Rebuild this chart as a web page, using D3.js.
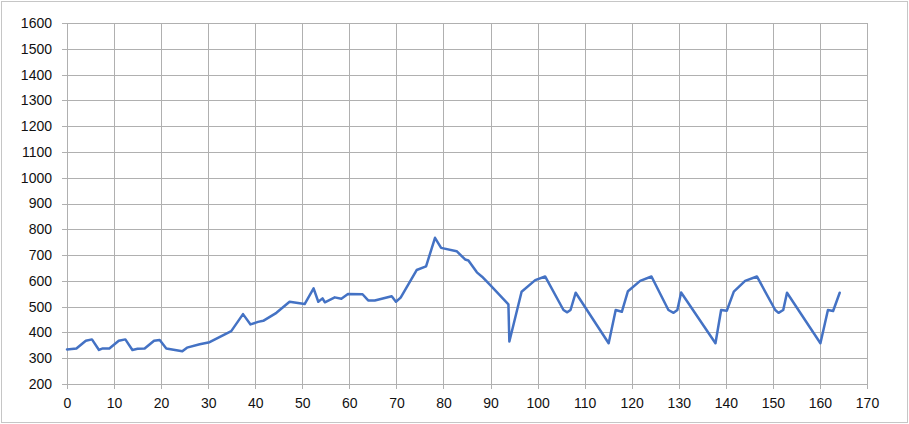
<!DOCTYPE html>
<html>
<head>
<meta charset="utf-8">
<script src="https://cdn.jsdelivr.net/npm/d3@7"></script>
<style>
  html, body { margin: 0; padding: 0; background: #fff; }
  #chart { width: 909px; height: 424px; }
  svg { display: block; font-family: "Open Sans", "Liberation Sans", sans-serif; }
  .grid line { stroke: #b0b0b0; stroke-width: 1; shape-rendering: crispEdges; }
  .grid .domain { display: none; }
  .axis line { stroke: #b0b0b0; shape-rendering: crispEdges; }
  .axis .domain { display: none; }
  .axis text { fill: #111; font-size: 14px; }
  .series { fill: none; stroke: #4472c4; stroke-width: 2.5; stroke-linejoin: round; stroke-linecap: round; }
</style>
</head>
<body>
<div id="chart"></div>
<script>
// Chart data
var X_VALUES = [0, 2, 4, 5.3, 6.8, 7.6, 9, 11, 12.4, 13.9, 15, 16.5, 18.5, 19.7, 21.1, 24.5, 25.5, 28.2,
  30.3, 34.9, 37.4, 39, 40.6, 41.7, 44.5, 47.3, 50.5, 52.4, 53.4, 54.3, 54.8, 56.9, 58.3, 59.7,
  62.8, 64, 65.4, 69, 69.9, 70.9, 74.3, 76.3, 78.2, 79.5, 82.8, 84.6, 85.3, 87.1, 88.2, 89.9,
  93.8, 94, 96.6, 99.5, 101.6, 105.5, 106.3, 107, 108.1, 115.1, 116.6, 117.9, 119.2,
  121.8, 124.2, 127.8, 128.9, 129.7, 130.5, 137.8, 139, 140.2, 141.7, 144.1, 146.6,
  150.5, 151.2, 152.2, 153, 160.1, 161.7, 162.8, 164.2];
var Y_VALUES = [334, 338, 368, 373, 332, 338, 338, 368, 373, 332, 337, 338, 368, 371, 338, 327, 341, 354,
  362, 405, 471, 431, 441, 445, 476, 519, 510, 571, 519, 532, 517, 536, 531, 549,
  548, 524, 524, 540, 519, 535, 642, 656, 767, 728, 715, 683, 679, 633, 616, 584,
  509, 365, 558, 603, 617, 487, 478, 487, 554, 358, 487, 480, 560,
  600, 617, 487, 476, 487, 555, 358, 487, 484, 558, 600, 617,
  487, 476, 487, 554, 358, 487, 483, 554];
var X_TICKS = d3.range(0, 171, 10);
var Y_TICKS = d3.range(200, 1601, 100);

var render = function() {
  var width = 909;
  var height = 424;
  var margins = { top: 23, right: 42, bottom: 40, left: 67 };
  var chartWidth = width - margins.left - margins.right;
  var chartHeight = height - margins.top - margins.bottom;

  var svg = d3.select("#chart")
    .append("svg")
    .attr("width", width)
    .attr("height", height);

  // outer frame
  svg.append("rect")
    .attr("x", 1.5)
    .attr("y", 1.5)
    .attr("width", width - 3)
    .attr("height", height - 3)
    .attr("fill", "none")
    .attr("stroke", "#c6c6c6");

  var chartElement = svg.append("g")
    .attr("transform", "translate(" + margins.left + "," + margins.top + ")");

  var xScale = d3.scaleLinear().domain([0, 170]).range([0, chartWidth]);
  var yScale = d3.scaleLinear().domain([200, 1600]).range([chartHeight, 0]);

  // grid
  chartElement.append("g")
    .attr("class", "x grid")
    .attr("transform", "translate(0," + chartHeight + ")")
    .call(d3.axisBottom(xScale).tickValues(X_TICKS).tickSize(-chartHeight).tickSizeOuter(0).tickFormat(""));

  chartElement.append("g")
    .attr("class", "y grid")
    .call(d3.axisLeft(yScale).tickValues(Y_TICKS).tickSize(-chartWidth).tickSizeOuter(0).tickFormat(""));

  // axes with short tick marks
  chartElement.append("g")
    .attr("class", "x axis")
    .attr("transform", "translate(0," + chartHeight + ")")
    .call(d3.axisBottom(xScale).tickValues(X_TICKS).tickSize(5).tickSizeOuter(0).tickPadding(9).tickFormat(d3.format("d")));

  chartElement.append("g")
    .attr("class", "y axis")
    .call(d3.axisLeft(yScale).tickValues(Y_TICKS).tickSize(5).tickSizeOuter(0).tickPadding(10).tickFormat(d3.format("d")));

  // series
  var points = X_VALUES.map(function(x, i) { return [x, Y_VALUES[i]]; });
  var line = d3.line()
    .x(function(d) { return xScale(d[0]); })
    .y(function(d) { return yScale(d[1]); });

  chartElement.append("path")
    .datum(points)
    .attr("class", "series")
    .attr("d", line);
};

window.onload = render;
</script>
</body>
</html>
